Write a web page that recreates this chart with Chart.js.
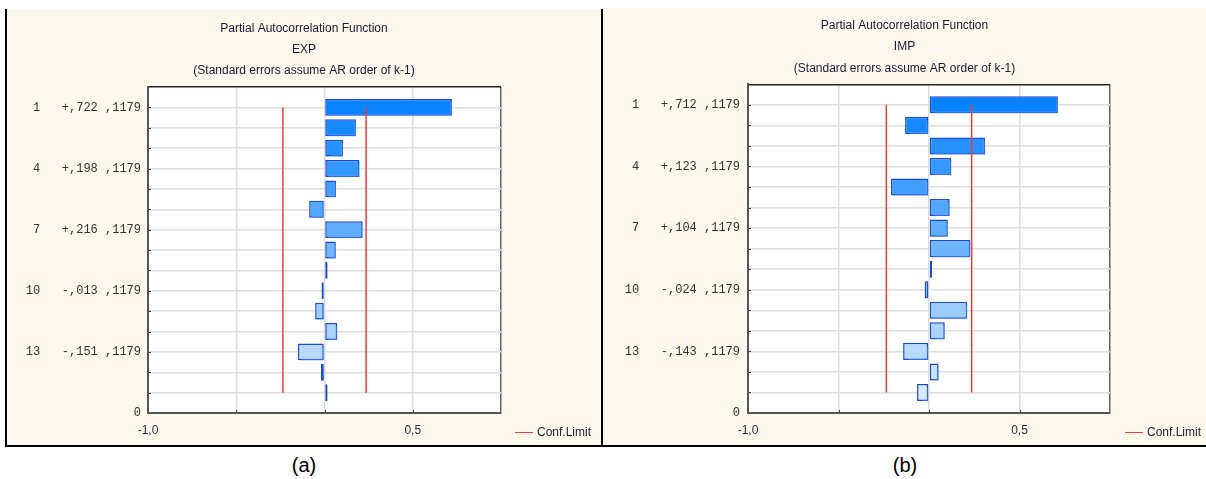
<!DOCTYPE html>
<html>
<head>
<meta charset="utf-8">
<script src="https://cdn.jsdelivr.net/npm/chart.js@4/dist/chart.umd.min.js"></script>
<style>
  html, body { margin: 0; padding: 0; background: #ffffff; }
  body { width: 1206px; height: 479px; position: relative; overflow: hidden; font-family: "Liberation Sans", Arial, sans-serif; }
  .panel { position: absolute; box-sizing: border-box; background: #fdf8ee; }
  #panelA { left: 5px; top: 9px; width: 598px; height: 438px; border-left: 2px solid #000; border-right: 2px solid #000; border-bottom: 2px solid #000; }
  #panelB { left: 603px; top: 8px; width: 603px; height: 439px; border-bottom: 2px solid #000; }
  canvas { position: absolute; }
  #chartA { left: 7px; top: 9px; }
  #chartB { left: 603px; top: 8px; }
  .legend { position: absolute; font-size: 12px; color: #1c1c30; line-height: 14px; white-space: nowrap; }
  .legend .swatch { position: absolute; left: 0; top: 7px; width: 18px; height: 0; border-top: 1.5px solid #ee3b3b; }
  .legend .txt { position: absolute; left: 22px; top: 0; }
  .caption { position: absolute; font-size: 20px; color: #000; width: 60px; text-align: center; line-height: 24px; }
</style>
</head>
<body>
<div class="panel" id="panelA"></div>
<div class="panel" id="panelB"></div>
<canvas id="chartA" width="594" height="436" style="width:594px;height:436px"></canvas>
<canvas id="chartB" width="603" height="437" style="width:603px;height:437px"></canvas>
<div class="legend" style="left:515px; top:425px; width:90px; height:14px;"><span class="swatch"></span><span class="txt">Conf.Limit</span></div>
<div class="legend" style="left:1125px; top:425px; width:90px; height:14px;"><span class="swatch"></span><span class="txt">Conf.Limit</span></div>
<div class="caption" style="left:274px; top:453px;">(a)</div>
<div class="caption" style="left:875px; top:453px;">(b)</div>
<script>
// ---- data ----
const lags = [1, 2, 3, 4, 5, 6, 7, 8, 9, 10, 11, 12, 13, 14, 15];
const expPacf = [0.722, 0.178, 0.105, 0.198, 0.065, -0.087, 0.216, 0.064, 0.004, -0.013, -0.053, 0.072, -0.151, -0.020, 0.004];
const impPacf = [0.712, -0.132, 0.310, 0.123, -0.210, 0.114, 0.104, 0.228, 0.006, -0.024, 0.211, 0.087, -0.143, 0.053, -0.066];
const standardError = 0.1179;
const labelledLags = [1, 4, 7, 10, 13];
const xTickValues = [-1, 0.5];
const xTickTexts = ['-1,0', '0,5'];
const bottomLabel = '0';
const titleText = 'Partial Autocorrelation Function';
const subtitleText = '(Standard errors assume AR order of k-1)';
const seriesNames = ['EXP', 'IMP'];

function fmtVal(v) {
  return (v >= 0 ? '+' : '-') + ',' + String(Math.round(Math.abs(v) * 1000)).padStart(3, '0');
}
function fmtSe(v) {
  return ',' + String(Math.round(v * 10000));
}
function barColor(i) {
  const t = i / 14;
  const r = Math.round(8 + (215 - 8) * t);
  const g = Math.round(130 + (233 - 130) * t);
  return `rgb(${r},${g},255)`;
}

const bgPlugin = {
  id: 'plotBg',
  beforeDraw(chart) {
    const { ctx, chartArea: a } = chart;
    ctx.save();
    ctx.fillStyle = '#ffffff';
    ctx.fillRect(a.left, a.top, a.right - a.left, a.bottom - a.top);
    ctx.restore();
  }
};
const shadowPlugin = {
  id: 'barShadow',
  beforeDatasetDraw(chart, args) {
    if (chart.data.datasets[args.index].type === 'bar') {
      const ctx = chart.ctx;
      ctx.save();
      ctx.shadowColor = 'rgba(70,140,255,0.55)';
      ctx.shadowBlur = 1;
      ctx.shadowOffsetX = 2;
      ctx.shadowOffsetY = 2;
    }
  },
  afterDatasetDraw(chart, args) {
    if (chart.data.datasets[args.index].type === 'bar') chart.ctx.restore();
  }
};
// short inward tick marks along the left and bottom axes
const innerTicksPlugin = {
  id: 'innerTicks',
  afterDraw(chart) {
    const { ctx, chartArea: a } = chart;
    const xs = chart.scales.x, ys = chart.scales.y;
    ctx.save();
    ctx.strokeStyle = '#444444';
    ctx.lineWidth = 1;
    ctx.beginPath();
    ys.ticks.forEach(t => {
      if (t.value === 0 || t.value === 16) return;
      const y = Math.round(ys.getPixelForValue(t.value)) + 0.5;
      ctx.moveTo(a.left, y); ctx.lineTo(a.left + 3, y);
    });
    xs.ticks.forEach(t => {
      if (t.value === -1 || t.value === 1) return;
      const x = Math.round(xs.getPixelForValue(t.value)) + 0.5;
      ctx.moveTo(x, a.bottom); ctx.lineTo(x, a.bottom - 3);
    });
    ctx.stroke();
    ctx.restore();
  }
};

function makePanel(id, name, values, g) {
  const limit = 2 * standardError;
  const labelFor = {};
  labelledLags.forEach(l => {
    labelFor[l] = String(l).padStart(2, ' ') + '   ' + fmtVal(values[l - 1]) + ' ' + fmtSe(standardError);
  });
  return new Chart(document.getElementById(id), {
    data: {
      datasets: [
        {
          type: 'line', label: 'Conf.Limit', order: 0,
          data: [{ x: -limit, y: lags[0] }, { x: -limit, y: lags[lags.length - 1] }],
          borderColor: '#ee3b3b', borderWidth: 1.5, pointRadius: 0
        },
        {
          type: 'line', label: 'Conf.Limit ', order: 0,
          data: [{ x: limit, y: lags[0] }, { x: limit, y: lags[lags.length - 1] }],
          borderColor: '#ee3b3b', borderWidth: 1.5, pointRadius: 0
        },
        {
          type: 'bar', label: name, order: 1,
          data: lags.map((l, i) => ({ x: values[i], y: l })),
          backgroundColor: ctx => barColor(ctx.dataIndex),
          borderColor: '#1a4ccc', borderWidth: 1.5, borderSkipped: false,
          barPercentage: 0.83, categoryPercentage: 1, minBarLength: 3
        }
      ]
    },
    options: {
      indexAxis: 'y',
      responsive: false,
      animation: false,
      events: [],
      layout: { padding: 0 },
      plugins: {
        legend: { display: false },
        tooltip: { enabled: false },
        title: {
          display: true, text: [titleText, name], color: '#1b1b2f',
          font: { family: '"Liberation Sans", Arial, sans-serif', size: 12, weight: 'normal', lineHeight: '21px' },
          padding: { top: g.tTop, bottom: g.tBottom }
        },
        subtitle: {
          display: true, text: subtitleText, color: '#1b1b2f',
          font: { family: '"Liberation Sans", Arial, sans-serif', size: 12, weight: 'normal', lineHeight: '14px' },
          padding: { top: 0, bottom: g.sBottom }
        }
      },
      scales: {
        x: {
          type: 'linear', min: -1, max: 1,
          afterBuildTicks(scale) { scale.ticks = [-1, -0.5, 0, 0.5, 1].map(v => ({ value: v })); },
          afterFit(scale) { scale.height = g.xH; },
          ticks: {
            autoSkip: false, maxRotation: 0, padding: g.xPad, color: '#2a2a3a',
            font: { family: '"Liberation Sans", Arial, sans-serif', size: 12 },
            callback: v => { const k = xTickValues.indexOf(v); return k >= 0 ? xTickTexts[k] : ''; }
          },
          grid: {
            drawTicks: false, lineWidth: 1.5,
            color: c => (c.tick && c.tick.value === 1) ? '#666666' : '#dedede'
          },
          border: { display: true, color: '#555555', width: 2 }
        },
        y: {
          type: 'linear', min: 0, max: 16, reverse: true, offset: false,
          afterBuildTicks(scale) { const t = []; for (let v = 0; v <= 16; v++) t.push({ value: v }); scale.ticks = t; },
          afterFit(scale) { scale.width = g.yW; },
          ticks: {
            autoSkip: false, padding: g.yPad, color: '#333333',
            font: { family: '"Liberation Mono", "Courier New", monospace', size: 12 },
            callback: v => (v === 16 ? bottomLabel : (labelFor[v] || ''))
          },
          grid: {
            offset: false, drawTicks: false, lineWidth: 1.5,
            color: c => (c.tick && c.tick.value === 0) ? '#222222' : '#dedede'
          },
          border: { display: true, color: '#555555', width: 2 }
        },
        yBalance: {
          type: 'linear', position: 'right', min: 0, max: 16, offset: false,
          afterFit(scale) { scale.width = g.rW; },
          ticks: { display: false },
          grid: { display: false, drawTicks: false },
          border: { display: false }
        }
      }
    },
    plugins: [bgPlugin, shadowPlugin, innerTicksPlugin]
  });
}

makePanel('chartA', seriesNames[0], expPacf, { yW: 141, rW: 100, xH: 32, yPad: 7, xPad: 10, tTop: 8.8, tBottom: 3.9, sBottom: 9.3 });
makePanel('chartB', seriesNames[1], impPacf, { yW: 145, rW: 96, xH: 32, yPad: 8, xPad: 10, tTop: 7.2, tBottom: 4.8, sBottom: 8.3 });
</script>
</body>
</html>
